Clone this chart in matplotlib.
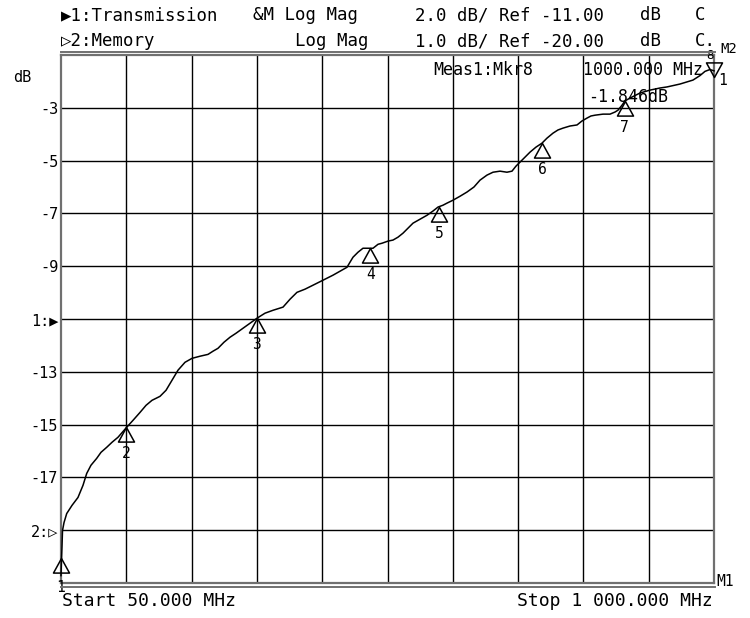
import numpy as np
import matplotlib
matplotlib.use("Agg")
import matplotlib.pyplot as plt
from matplotlib.path import Path
from matplotlib.lines import Line2D

# ---------------- data ----------------
freq_mhz = [50, 50.7, 51.5, 52.2, 54.4, 58.3, 66.0, 74.7, 82.0, 87.4, 93.6, 101.9, 108.2,
            116.5, 124.2, 132.9, 145.6, 154.7, 164.9, 173.7, 182.4, 194.0, 202.8, 211.5,
            220.2, 230.4, 240.6, 252.2, 263.9, 271.1, 278.4, 287.1, 295.9, 304.6, 314.8,
            325.0, 335.1, 346.8, 358.4, 373.0, 383.2, 393.3, 405.0, 416.6, 431.2, 445.7,
            455.9, 466.1, 470.4, 474.8, 482.1, 489.3, 499.5, 503.9, 511.2, 517.0, 525.7,
            533.0, 540.3, 547.5, 554.8, 562.1, 572.3, 582.5, 591.2, 598.5, 605.7, 611.6,
            620.3, 630.5, 640.7, 650.8, 659.6, 669.7, 678.5, 688.7, 698.8, 706.1, 711.9,
            717.7, 725.0, 732.3, 741.0, 749.7, 757.0, 765.8, 773.0, 780.3, 790.5, 800.7,
            807.9, 815.2, 821.0, 826.9, 838.5, 848.7, 856.0, 860.3, 866.2, 870.5, 877.8,
            892.4, 906.9, 921.5, 931.6, 950.5, 969.4, 979.6, 986.9, 994.1, 1000]
trace_db = [-20.72, -20.15, -19.58, -19.01, -18.71, -18.37, -18.06, -17.76, -17.30, -16.85,
            -16.54, -16.28, -16.05, -15.86, -15.67, -15.48, -15.10, -14.84, -14.54, -14.27,
            -14.08, -13.93, -13.70, -13.32, -12.94, -12.64, -12.49, -12.41, -12.34, -12.22,
            -12.11, -11.88, -11.69, -11.54, -11.35, -11.16, -10.97, -10.78, -10.67, -10.55,
            -10.25, -9.99, -9.87, -9.72, -9.53, -9.34, -9.19, -9.04, -8.85, -8.66, -8.47,
            -8.32, -8.32, -8.32, -8.17, -8.13, -8.05, -8.01, -7.90, -7.75, -7.56, -7.37,
            -7.22, -7.07, -6.91, -6.76, -6.69, -6.61, -6.50, -6.35, -6.19, -6.00, -5.74,
            -5.55, -5.44, -5.40, -5.44, -5.40, -5.21, -5.06, -4.87, -4.68, -4.49, -4.34,
            -4.15, -3.96, -3.84, -3.77, -3.69, -3.65, -3.50, -3.39, -3.31, -3.28, -3.24,
            -3.24, -3.16, -3.09, -2.90, -2.74, -2.63, -2.44, -2.33, -2.25, -2.21, -2.10,
            -1.95, -1.78, -1.62, -1.55, -1.60]

marker_ids = [1, 2, 3, 4, 5, 6, 7]
marker_freq = [50, 145, 335, 500, 600, 750, 870]
marker_db = [-20.07, -15.08, -10.97, -8.32, -6.76, -4.34, -2.74]
active_marker_id = 8
active_marker_freq = 1000
active_marker_db = -1.846

y_tick_values = [-3, -5, -7, -9, -11, -13, -15, -17, -19]
y_tick_labels = ["-3", "-5", "-7", "-9", "1:\u25B6", "-13", "-15", "-17", "2:\u25B7"]
x_grid_values = [145, 240, 335, 430, 525, 620, 715, 810, 905]

header1 = [("\u25B61:Transmission", 61), ("&M Log Mag", 253),
           ("2.0 dB/ Ref -11.00", 415), ("dB", 640), ("C", 695)]
header2 = [("\u25B72:Memory", 61), ("Log Mag", 295),
           ("1.0 dB/ Ref -20.00", 415), ("dB", 640), ("C.", 695)]
start_text = "Start 50.000 MHz"
stop_text = "Stop 1 000.000 MHz"
meas_label = "Meas1:Mkr8"
meas_freq = "1000.000 MHz"
meas_value = "-1.846dB"

# ---------------- figure ----------------
W, H = 750, 618
MONO = ["DejaVu Sans Mono", "DejaVu Sans"]
plt.rcParams["font.family"] = MONO

fig = plt.figure(figsize=(7.5, 6.18), dpi=100)
fig.patch.set_facecolor("white")


def ftext(px, py, s, size, ha="left", va="center"):
    fig.text(px / W, 1 - py / H, s, fontsize=size, ha=ha, va=va, family=MONO, color="black")


L, R, T, B = 61, 714, 55, 583
ax = fig.add_axes([L / W, 1 - B / H, (R - L) / W, (B - T) / H])
ax.set_xlim(50, 1000)
ax.set_ylim(-21, -1)
ax.set_yticks(y_tick_values, y_tick_labels)
ax.set_xticks(x_grid_values, [])
ax.tick_params(axis="both", length=0)
ax.tick_params(axis="y", pad=2, labelsize=11)
for lab in ax.get_yticklabels():
    lab.set_family(MONO)
ax.grid(True, color="black", linewidth=1.0)
ax.set_axisbelow(True)
for sp in ax.spines.values():
    sp.set_color("#707070")
    sp.set_linewidth(1.6)

# outer double lines (top and bottom)
for py in (51.5, 586.5):
    fig.add_artist(Line2D([L / W, (R + 1) / W], [1 - py / H] * 2, color="#707070",
                          linewidth=1.4, transform=fig.transFigure))

# trace
ax.plot(freq_mhz, trace_db, color="black", linewidth=1.1, clip_on=False, zorder=3)

# markers: open triangles whose tip sits on the trace
up_tri = Path([(0, 0), (-0.55, -1), (0.55, -1), (0, 0)],
              [Path.MOVETO, Path.LINETO, Path.LINETO, Path.CLOSEPOLY])
down_tri = Path([(0, 0), (-0.55, 1), (0.55, 1), (0, 0)],
                [Path.MOVETO, Path.LINETO, Path.LINETO, Path.CLOSEPOLY])
ax.plot(marker_freq, marker_db, linestyle="none", marker=up_tri, markersize=21,
        markerfacecolor="none", markeredgecolor="black", markeredgewidth=1.1,
        clip_on=False, zorder=4)
for mid, f, v in zip(marker_ids, marker_freq, marker_db):
    dy = -21 if mid == 1 else -19
    ax.annotate(str(mid), (f, v), xytext=(0, dy), textcoords="offset points",
                ha="center", va="center", fontsize=10.5, family=MONO,
                annotation_clip=False)

ax.plot([active_marker_freq], [active_marker_db], linestyle="none", marker=down_tri,
        markersize=21, markerfacecolor="none", markeredgecolor="black",
        markeredgewidth=1.1, clip_on=False, zorder=4)
ax.annotate(str(active_marker_id), (active_marker_freq, active_marker_db), xytext=(-3, 16),
            textcoords="offset points", ha="center", va="center", fontsize=9,
            family=MONO, annotation_clip=False)
ax.annotate("1", (active_marker_freq, active_marker_db), xytext=(6, -2),
            textcoords="offset points", ha="center", va="center", fontsize=10.5,
            family=MONO, annotation_clip=False)

# texts
for s, x in header1:
    ftext(x, 15, s, 12.5)
for s, x in header2:
    ftext(x, 41, s, 12.5)
ftext(62, 601, start_text, 13)
ftext(713, 601, stop_text, 13, ha="right")
ftext(433, 70, meas_label, 12)
ftext(703, 70, meas_freq, 12, ha="right")
ftext(588, 97, meas_value, 12)
ftext(13, 77, "dB", 11)
ftext(720, 49, "M2", 10)
ftext(716, 581, "M1", 10.5)

fig.savefig("out.png", dpi=100, facecolor="white")
